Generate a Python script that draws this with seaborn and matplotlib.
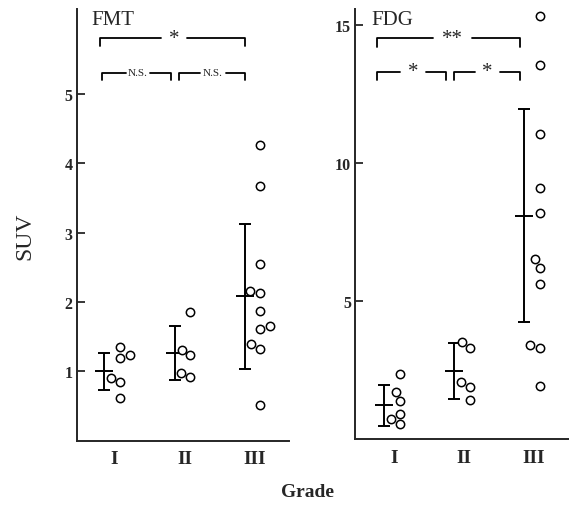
import numpy as np
import pandas as pd
import matplotlib
matplotlib.use("Agg")
import matplotlib.pyplot as plt
import seaborn as sns

grades = ["I", "II", "III"]

# individual SUV values
fmt_I   = [1.35, 1.23, 1.19, 0.91, 0.85, 0.61]
fmt_II  = [1.85, 1.31, 1.23, 0.97, 0.92]
fmt_III = [4.26, 3.67, 2.55, 2.16, 2.13, 1.87, 1.65, 1.61, 1.39, 1.32, 0.51]

fdg_I   = [2.36, 1.71, 1.38, 0.92, 0.75, 0.55]
fdg_II  = [3.53, 3.29, 2.08, 1.89, 1.43]
fdg_III = [15.34, 13.56, 11.05, 9.11, 8.19, 6.52, 6.20, 5.62, 3.41, 3.29, 1.93]

# mean +/- SD as drawn in the figure
fmt_means = [1.00, 1.27, 2.08]
fmt_sds   = [0.27, 0.39, 1.04]
fdg_means = [1.23, 2.46, 8.10]
fdg_sds   = [0.75, 1.02, 3.85]

# (x0, x1, gap0, gap1, y, label) per bracket, x in category units
fmt_brackets = [(-0.20, 1.86, 0.67, 1.04, 5.81, "*"),
                (-0.18, 0.81, 0.16, 0.51, 5.31, "N.S."),
                (0.925, 1.86, 1.22, 1.59, 5.31, "N.S.")]
fdg_brackets = [(-0.24, 1.80, 0.56, 1.11, 14.53, "**"),
                (-0.24, 0.74, 0.09, 0.46, 13.32, "*"),
                (0.86, 1.80, 1.16, 1.51, 13.32, "*")]

rows = []
for tracer, groups in [("FMT", [fmt_I, fmt_II, fmt_III]),
                       ("FDG", [fdg_I, fdg_II, fdg_III])]:
    for g, vals in zip(grades, groups):
        for v in vals:
            rows.append({"tracer": tracer, "grade": g, "suv": v})
df = pd.DataFrame(rows)
df["code"] = df["grade"].map({g: i for i, g in enumerate(grades)})

sns.set_theme(style="ticks")
plt.rcParams["font.family"] = ["Liberation Serif", "DejaVu Serif"]
plt.rcParams["axes.linewidth"] = 1.4

fig = plt.figure(figsize=(5.69, 5.06), dpi=100)
ax_fmt = fig.add_axes([0.1348, 0.1273, 0.373, 0.853])
ax_fdg = fig.add_axes([0.624, 0.130, 0.376, 0.850])

panels = [
    (ax_fmt, "FMT", fmt_means, fmt_sds, fmt_brackets, (0, 6.23), (-0.535, 2.485),
     [1, 2, 3, 4, 5], 0.11, 6.08),
    (ax_fdg, "FDG", fdg_means, fdg_sds, fdg_brackets, (0, 15.58), (-0.557, 2.50),
     [5, 10, 15], 0.31, 15.2),
]

for ax, tracer, means, sds, brackets, ylim, xlim, yticks, hook, title_y in panels:
    sub = df[df["tracer"] == tracer].copy()
    sub["xpos"] = sub["code"] + 0.08
    sns.swarmplot(data=sub, x="xpos", y="suv", native_scale=True, orient="x",
                  ax=ax, color="white", edgecolor="black", linewidth=1.1, size=6.0)

    xs = np.arange(len(grades)) - 0.14
    ax.errorbar(xs, means, yerr=sds, fmt="_", color="black", markersize=13,
                markeredgewidth=1.4, elinewidth=1.4, capsize=4.5, capthick=1.4)

    for x0, x1, g0, g1, y, label in brackets:
        ax.plot([x0, x0, g0], [y - hook, y, y], color="black", lw=1.3)
        ax.plot([g1, x1, x1], [y, y, y - hook], color="black", lw=1.3)
        fs = 8 if label == "N.S." else 15
        ax.text((g0 + g1) / 2, y, label, ha="center", va="center", fontsize=fs)

    ax.text(-0.32, title_y, tracer, ha="left", va="center", fontsize=15)

    ax.set_xlim(*xlim)
    ax.set_ylim(*ylim)
    ax.set_xticks(range(len(grades)))
    ax.set_xticklabels(grades, fontsize=14, fontweight="bold")
    ax.set_yticks(yticks)
    ax.set_yticklabels([str(t) for t in yticks], fontsize=11.5, fontweight="bold")
    ax.tick_params(axis="x", length=0, pad=7)
    ax.tick_params(axis="y", direction="in", length=5.5, width=1.3, pad=3)
    ax.set_xlabel("")
    ax.set_ylabel("")
    sns.despine(ax=ax)

fig.text(25 / 569, 1 - 236 / 506, "SUV", rotation=90, ha="center", va="center", fontsize=17)
fig.text(307 / 569, 1 - 493 / 506, "Grade", ha="center", va="center",
         fontsize=14, fontweight="bold")

fig.savefig("out.png", dpi=100)
plt.close(fig)
